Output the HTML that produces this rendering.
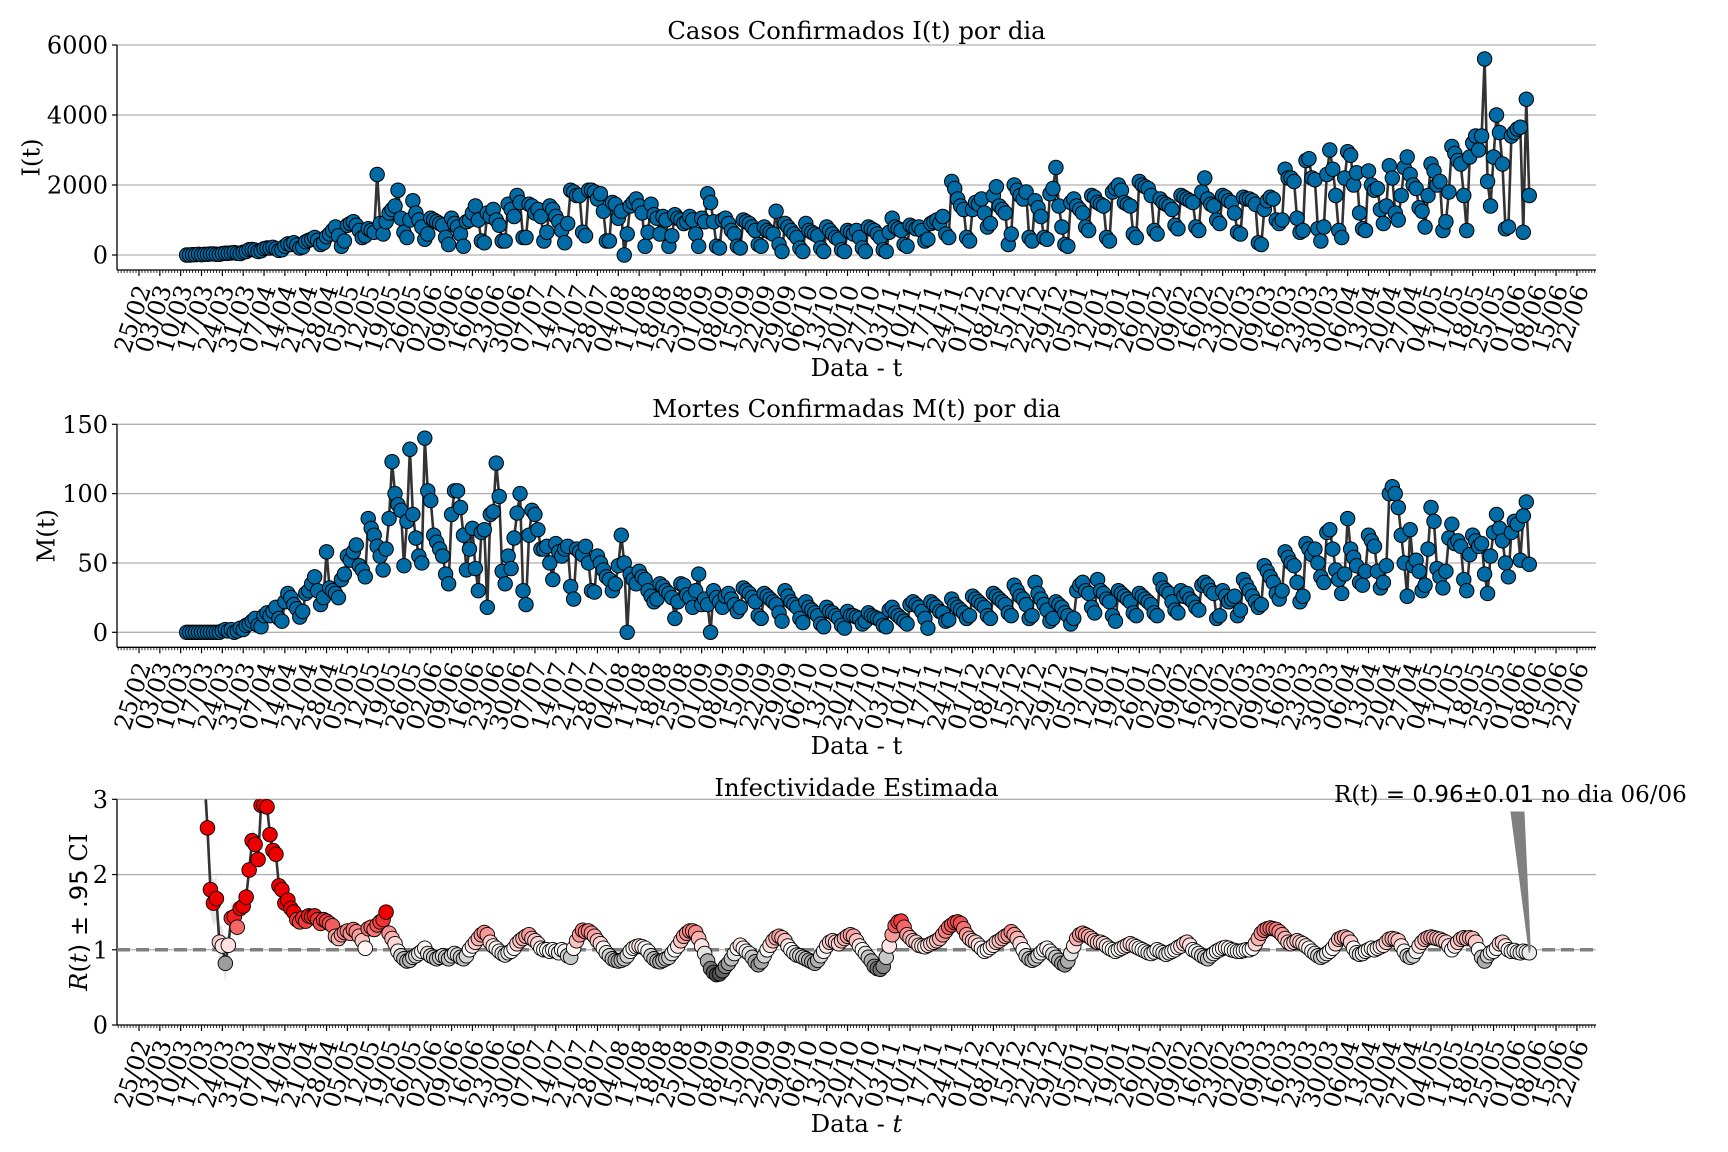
<!DOCTYPE html>
<html><head><meta charset="utf-8"><style>
html,body{margin:0;padding:0;background:#fff;}
svg{display:block;font-family:"DejaVu Serif","Liberation Serif",serif;}
</style></head><body>
<svg id="chart" xmlns="http://www.w3.org/2000/svg" width="1728" height="1152" viewBox="0 0 1728 1152">
<rect x="0" y="0" width="1728" height="1152" fill="#fff"/>
</svg>
<script>
const tickLabels = ["25/02","03/03","10/03","17/03","24/03","31/03","07/04","14/04","21/04","28/04","05/05","12/05","19/05","26/05","02/06","09/06","16/06","23/06","30/06","07/07","14/07","21/07","28/07","04/08","11/08","18/08","25/08","01/09","08/09","15/09","22/09","29/09","06/10","13/10","20/10","27/10","03/11","10/11","17/11","24/11","01/12","08/12","15/12","22/12","29/12","05/01","12/01","19/01","26/01","02/02","09/02","16/02","23/02","02/03","09/03","16/03","23/03","30/03","06/04","13/04","20/04","27/04","04/05","11/05","18/05","25/05","01/06","08/06","15/06","22/06"];
const casesTicks = [0,2000,4000,6000];
const deathsTicks = [0,50,100,150];
const rTicks = [0,1,2,3];
const firstDataDay = 16;
const cases = [
0,0,10,10,20,10,20,
20,30,30,20,20,40,50,
50,60,70,50,40,80,100,
150,160,140,100,120,180,200,
200,220,180,130,150,250,320,
300,350,280,200,230,380,420,
450,500,420,300,350,520,600,
700,800,550,250,400,850,900,
950,850,700,500,550,750,700,
650,2300,900,600,950,1200,1300,
1400,1850,1050,650,500,1000,1550,
1200,1000,800,450,600,1050,1000,
950,900,850,500,300,1050,900,
800,600,250,950,1000,1200,1400,
1000,400,350,1200,1100,1300,1000,
850,400,400,1450,1300,1100,1700,
1500,500,500,1450,1400,1200,1300,
1100,400,650,1400,1300,1100,950,
700,350,900,1850,1800,1700,1700,
650,550,1850,1850,1800,1600,1750,
1250,400,400,1500,1450,1050,1250,
0,600,1400,1500,1600,1400,1200,
250,650,1450,1150,1050,600,1100,
1000,250,550,1150,1050,1000,900,
950,1100,1000,600,250,1050,950,
1750,1500,950,250,200,1000,1050,
900,700,600,250,200,1000,950,
900,800,700,300,250,800,700,
650,600,1250,300,100,900,800,
700,600,500,200,100,900,700,
650,600,550,200,100,800,700,
600,500,450,150,100,700,650,
600,700,500,200,100,800,750,
700,600,500,150,100,650,1050,
800,750,700,300,250,850,800,
750,800,700,400,450,900,950,
1000,900,1100,600,500,2100,1900,
1600,1400,1300,500,400,1300,1500,
1450,1600,1200,800,900,1700,1950,
1400,1300,1200,300,600,2000,1850,
1700,1600,1800,500,400,1550,1350,
1100,500,450,1750,1900,2500,1400,
800,300,250,1500,1600,1400,1300,
1200,800,700,1700,1650,1500,1450,
1400,500,400,1800,1900,2000,1850,
1500,1450,1400,600,500,2100,2000,
1950,1900,1700,700,600,1600,1500,
1450,1400,1300,850,750,1700,1650,
1600,1550,1500,800,700,1800,2200,
1600,1450,1400,1000,900,1700,1650,
1550,1500,1200,650,600,1650,1600,
1600,1550,1450,350,300,1300,1550,
1650,1600,1000,900,1000,2450,2200,
2200,2100,1050,650,700,2700,2750,
2200,2150,750,400,800,2300,3000,
2450,1700,700,500,2200,2950,2850,
2000,2350,1200,750,700,2400,2000,
1850,1900,1300,900,1400,2550,2200,
1200,1000,1700,2500,2800,2300,2000,
1900,1350,1250,800,1700,2600,2400,
2000,2100,700,950,1800,3100,2900,
2700,2600,1700,700,2800,3200,3400,
3000,3400,5600,2100,1400,2800,4000,
3500,2600,750,800,3400,3500,3600,
3650,650,4450,1700];
const deaths = [
0,0,0,0,0,0,0,
0,0,0,0,0,1,2,
1,2,0,1,3,2,5,
6,8,10,5,4,12,14,
12,15,18,10,8,22,28,
25,20,17,11,15,28,30,
35,40,30,20,25,58,32,
30,28,25,38,42,55,52,
58,63,48,45,40,82,75,
70,62,55,45,60,82,123,
100,92,88,48,80,132,85,
68,55,50,140,102,95,70,
65,60,55,42,35,85,102,
102,90,70,45,60,75,46,
30,72,74,18,85,87,122,
98,44,35,55,46,68,86,
100,30,20,70,88,85,74,
60,60,62,50,38,64,58,
55,60,62,33,24,60,58,
56,62,50,30,29,55,50,
45,40,38,30,35,48,70,
50,0,42,38,35,44,40,
38,30,26,22,24,35,33,
30,28,25,10,22,35,34,
27,25,18,30,42,20,24,
20,0,30,25,22,18,26,
28,24,20,15,18,32,30,
28,25,22,12,10,28,26,
24,22,20,14,8,30,26,
22,20,18,10,7,22,18,
16,14,12,6,4,18,15,
14,12,10,5,3,15,12,
12,11,10,6,8,14,12,
11,10,9,5,4,16,18,
14,12,10,8,6,20,22,
20,18,15,10,3,22,20,
18,15,14,8,9,24,20,
18,16,14,10,12,26,24,
22,20,18,12,10,28,26,
24,22,20,14,12,34,30,
26,24,20,10,12,36,28,
24,20,16,8,10,22,20,
18,14,12,6,10,30,34,
36,30,28,18,14,38,30,
28,24,22,12,8,30,28,
26,24,22,14,12,28,26,
24,22,20,14,12,38,32,
30,28,22,16,14,30,26,
28,24,22,18,16,34,36,
34,30,28,10,12,30,26,
22,24,26,12,16,38,34,
30,26,22,18,20,48,44,
40,36,28,24,30,58,54,
50,48,36,22,26,64,60,
56,60,50,40,36,72,74,
60,45,38,28,42,82,60,
54,48,36,34,44,70,66,
62,44,32,36,48,100,105,
100,90,70,50,26,74,48,
52,44,30,34,60,90,80,
46,40,32,44,68,78,64,
66,62,38,30,56,70,66,
62,64,42,28,55,72,85,
75,66,50,40,72,80,78,
52,84,94,49];
const rValues = [
null,null,null,null,null,3.6,3.3,2.62,1.80,1.62,
1.68,1.10,1.05,0.82,1.06,1.42,1.44,1.30,1.55,1.58,
1.70,2.06,2.45,2.40,2.20,2.92,2.92,2.90,2.53,2.32,
2.27,1.85,1.80,1.62,1.66,1.55,1.50,1.40,1.37,1.42,
1.38,1.45,1.44,1.45,1.40,1.35,1.40,1.38,1.35,1.32,
1.18,1.15,1.20,1.23,1.25,1.22,1.27,1.24,1.18,1.12,
1.02,1.28,1.30,1.27,1.33,1.37,1.40,1.50,1.22,1.15,
1.08,0.98,0.92,0.88,0.85,0.86,0.90,0.92,0.95,0.98,
1.02,0.95,0.92,0.90,0.88,0.90,0.92,0.90,0.88,0.92,
0.95,0.93,0.90,0.88,0.92,1.00,1.05,1.10,1.15,1.20,
1.23,1.20,1.10,1.05,1.02,0.98,0.95,0.93,0.96,0.98,
1.02,1.08,1.12,1.15,1.18,1.20,1.15,1.12,1.08,1.02,
1.00,1.00,0.98,1.00,0.98,0.96,1.00,0.98,0.92,0.90,
1.02,1.12,1.20,1.26,1.24,1.25,1.22,1.18,1.12,1.08,
1.02,0.96,0.92,0.88,0.86,0.85,0.86,0.88,0.92,0.98,
1.02,1.04,1.05,1.04,1.02,0.98,0.92,0.88,0.85,0.84,
0.86,0.88,0.90,0.95,1.00,1.05,1.12,1.18,1.22,1.25,
1.25,1.23,1.15,1.05,0.95,0.85,0.75,0.70,0.67,0.68,
0.72,0.78,0.82,0.88,0.95,1.02,1.06,1.02,0.98,0.95,
0.90,0.84,0.80,0.84,0.92,1.00,1.06,1.12,1.16,1.18,
1.16,1.12,1.05,1.00,0.96,0.93,0.92,0.90,0.88,0.86,
0.84,0.82,0.86,0.92,0.98,1.05,1.10,1.12,1.10,1.08,
1.12,1.15,1.18,1.20,1.18,1.12,1.05,1.00,0.95,0.90,
0.85,0.78,0.75,0.74,0.78,0.90,1.05,1.20,1.32,1.37,
1.38,1.30,1.20,1.16,1.12,1.10,1.06,1.05,1.04,1.06,
1.08,1.10,1.12,1.15,1.20,1.25,1.30,1.33,1.36,1.37,
1.35,1.28,1.20,1.15,1.12,1.10,1.06,1.02,0.98,1.00,
1.03,1.06,1.10,1.12,1.15,1.18,1.20,1.24,1.20,1.15,
1.08,1.00,0.92,0.88,0.86,0.88,0.92,0.96,1.00,1.02,
0.98,0.94,0.90,0.86,0.82,0.80,0.85,0.95,1.05,1.15,
1.20,1.22,1.20,1.18,1.15,1.12,1.10,1.10,1.08,1.05,
1.02,1.00,0.98,1.00,1.02,1.04,1.06,1.08,1.06,1.04,
1.02,1.00,0.98,0.96,0.95,0.97,1.00,0.98,0.96,0.94,
0.96,0.98,1.00,1.03,1.05,1.08,1.10,1.06,1.00,0.98,
0.95,0.92,0.90,0.88,0.92,0.95,0.98,1.00,1.02,1.03,
1.02,1.00,0.99,0.98,0.98,0.99,1.00,1.00,1.02,1.08,
1.15,1.22,1.26,1.28,1.29,1.28,1.27,1.24,1.20,1.15,
1.10,1.08,1.10,1.12,1.10,1.08,1.05,1.02,0.98,0.95,
0.92,0.90,0.92,0.95,0.98,1.02,1.08,1.14,1.16,1.17,
1.15,1.10,1.02,0.96,0.94,0.95,0.98,1.00,1.02,1.00,
1.02,1.04,1.06,1.10,1.14,1.15,1.14,1.12,1.05,0.98,
0.92,0.90,0.92,0.98,1.05,1.10,1.14,1.16,1.17,1.16,
1.15,1.14,1.12,1.10,1.05,1.00,1.05,1.10,1.14,1.16,
1.15,1.16,1.15,1.10,1.00,0.90,0.85,0.92,0.96,0.98,
1.02,1.08,1.10,1.05,1.00,0.98,0.99,0.97,0.96,0.98,
0.97,0.96];
const ciHalf = [0,0,0,0,0,0.5,0.4,0.35,0.3,0.3,0.3,0.25,0.25,0.25,0.2,0.2,0.2,0.15,0.15,0.15,0.15,0.15,0.15,0.15,0.12,0.12,0.12,0.12,0.1,0.1,0.08,0.08,0.06,0.06,0.05,0.05,0.05,0.04,0.04,0.04,0.04];
const annotationLabel = ["R(t) = ","0.96\u00b10.01"," no dia 06/06"];

const NS = "http://www.w3.org/2000/svg";
const svg = document.getElementById("chart");
function mk(tag, attrs, parent) {
  const e = document.createElementNS(NS, tag);
  for (const k in attrs) e.setAttribute(k, attrs[k]);
  (parent || svg).appendChild(e);
  return e;
}
const AX_L = 117, AX_R = 1596;
function xDay(d) { return 139 + 2.977 * d; }
function xIdx(i) { return xDay(i + firstDataDay); }

const panels = [
  {key:"cases", top:45, bottom:270, y0:255, pxPerUnit:210/6000, ticks:casesTicks, title:"Casos Confirmados I(t) por dia", titleY:39, xlabY:376, ylab:"I(t)", ylabX:31},
  {key:"deaths", top:424.3, bottom:647.3, y0:632.3, pxPerUnit:208/150, ticks:deathsTicks, title:"Mortes Confirmadas M(t) por dia", titleY:417, xlabY:754, ylab:"M(t)", ylabX:46},
  {key:"r", top:799.3, bottom:1025, y0:1025, pxPerUnit:75.23, ticks:rTicks, title:"Infectividade Estimada", titleY:796, xlabY:1132, ylab:"R", ylabX:78}
];
function yOf(p, v) { return p.y0 - v * p.pxPerUnit; }

function drawAxes(p) {
  const g = mk("g", {});
  
  
  p.ticks.forEach(t => {
    const y = yOf(p, t);
    if (!(p.key === "r" && t === 0)) {
      const gl = mk("line", {x1:AX_L, x2:AX_R, y1:y, y2:y, stroke:"#b0b0b0", "stroke-width":1.3}, g);
      
      
    }
    const tk = mk("line", {x1:AX_L-5, x2:AX_L, y1:y, y2:y, stroke:"#000", "stroke-width":1.2}, g);
    
    
    const tl = mk("text", {x:AX_L-9, y:y+8.5, "text-anchor":"end", "font-size":24, fill:"#000"}, g);
    tl.textContent = String(t);
    
    
  });
  for (let d = -7; d <= 489; d++) {
    const x = xDay(d);
    if (x < AX_L || x > AX_R) continue;
    const major = d >= 0 && d % 7 === 0 && d / 7 < tickLabels.length;
    const mt = mk("line", {x1:x, x2:x, y1:p.bottom, y2:p.bottom + (major ? 6 : 3), stroke:"#000", "stroke-width": major ? 1.2 : 0.8}, g);
    
    
  }
  tickLabels.forEach((lab, k) => {
    const x = xDay(k * 7) + 4.5, y = p.bottom + 16;
    const t = mk("text", {x:x, y:y, "text-anchor":"end", "dominant-baseline":"central", "font-size":24, transform:"rotate(-72 " + x + " " + y + ")"}, g);
    t.textContent = lab;
    
    
  });
  const sl = mk("line", {x1:AX_L, x2:AX_L, y1:p.top, y2:p.bottom, stroke:"#000", "stroke-width":1.3}, g);
  
  
  const sb = mk("line", {x1:AX_L, x2:AX_R, y1:p.bottom, y2:p.bottom, stroke:"#000", "stroke-width":1.3}, g);
  
  
  const ti = mk("text", {x:(AX_L+AX_R)/2, y:p.titleY, "text-anchor":"middle", "font-size":24.3}, g);
  ti.textContent = p.title;
  
  
  const xl = mk("text", {x:(AX_L+AX_R)/2, y:p.xlabY, "text-anchor":"middle", "font-size":24.3}, g);
  if (p.key === "r") {
    xl.textContent = "Data - ";
    const it = mk("tspan", {"font-style":"italic"}, xl);
    it.textContent = "t";
  } else {
    xl.textContent = "Data - t";
  }
  
  
  const cy = (p.top + p.bottom) / 2;
  const yl = mk("text", {x:p.ylabX, y:cy, "text-anchor":"middle", "dominant-baseline":"central", "font-size":24.3, transform:"rotate(-90 " + p.ylabX + " " + cy + ")"}, g);
  if (p.key === "r") {
    const a = mk("tspan", {"font-style":"italic"}, yl); a.textContent = "R";
    const b = mk("tspan", {}, yl); b.textContent = "(";
    const c = mk("tspan", {"font-style":"italic"}, yl); c.textContent = "t";
    const d2 = mk("tspan", {"font-family":"DejaVu Sans, Liberation Sans, sans-serif"}, yl); d2.textContent = ") \u00b1 .95";
    const e = mk("tspan", {}, yl); e.textContent = " CI";
  } else {
    yl.textContent = p.ylab;
  }
  
  
}
panels.forEach(drawAxes);

function drawSeries(p, values) {
  const g = mk("g", {});
  
  
  const pts = values.map((v, i) => xIdx(i).toFixed(2) + "," + yOf(p, v).toFixed(2)).join(" ");
  const ln = mk("polyline", {points:pts, fill:"none", stroke:"#333", "stroke-width":2.6, "stroke-linejoin":"round"}, g);
  
  
  values.forEach((v, i) => {
    const c = mk("circle", {cx:xIdx(i), cy:yOf(p, v), r:7.2, fill:"#006ba4", stroke:"#000", "stroke-width":1}, g);
    
    
  });
}
drawSeries(panels[0], cases);
drawSeries(panels[1], deaths);

function rColor(v) {
  if (v <= 1) {
    const t = Math.min(1, (1 - v) / 0.35);
    const g = Math.round(255 - t * 191);
    return "rgb(" + g + "," + g + "," + g + ")";
  }
  const t = Math.min(1, (v - 1) / 0.5);
  return "rgb(" + Math.round(255 - 17 * t) + "," + Math.round(255 * (1 - t)) + "," + Math.round(255 * (1 - t)) + ")";
}
(function drawR() {
  const p = panels[2];
  const clip = mk("clipPath", {id:"rclip"});
  mk("rect", {x:AX_L, y:p.top, width:AX_R - AX_L, height:p.bottom - p.top}, clip);
  const g = mk("g", {"clip-path":"url(#rclip)"});
  
  
  const idx = [];
  rValues.forEach((v, i) => { if (v !== null) idx.push(i); });
  const upper = idx.map(i => xIdx(i).toFixed(2) + "," + yOf(p, rValues[i] + (i < ciHalf.length ? ciHalf[i] : 0.02)).toFixed(2));
  const lower = idx.slice().reverse().map(i => xIdx(i).toFixed(2) + "," + yOf(p, rValues[i] - (i < ciHalf.length ? ciHalf[i] : 0.02)).toFixed(2));
  const band = mk("polygon", {points:upper.concat(lower).join(" "), fill:"#d8d8d8", "fill-opacity":0.7, stroke:"none"}, g);
  
  
  const ref = mk("line", {x1:AX_L, x2:AX_R, y1:yOf(p, 1), y2:yOf(p, 1), stroke:"#808080", "stroke-width":3.5, "stroke-dasharray":"13 6"}, g);
  
  
  const ln = mk("polyline", {points:idx.map(i => xIdx(i).toFixed(2) + "," + yOf(p, rValues[i]).toFixed(2)).join(" "), fill:"none", stroke:"#333", "stroke-width":2.6, "stroke-linejoin":"round"}, g);
  
  
  idx.forEach(i => {
    const v = rValues[i];
    if (v > 3.05) return;
    const c = mk("circle", {cx:xIdx(i), cy:yOf(p, v), r:7.3, fill:rColor(v), stroke:"#000", "stroke-width":0.9}, g);
    
    
  });
  const last = idx[idx.length - 1];
  const tx = xIdx(last), ty = yOf(p, rValues[last]);
  const arr = mk("polygon", {points:"1511,812 1524,812 " + (tx + 1) + "," + (ty - 4) + " " + tx + "," + ty, fill:"#808080", stroke:"#808080", "stroke-width":1});
  
  
  const at = mk("text", {x:1334, y:802, "font-size":23});
  const s1 = mk("tspan", {}, at); s1.textContent = annotationLabel[0];
  const s2 = mk("tspan", {"font-family":"DejaVu Sans, Liberation Sans, sans-serif"}, at); s2.textContent = annotationLabel[1];
  const s3 = mk("tspan", {}, at); s3.textContent = annotationLabel[2];
  
  
})();
</script>
</body></html>
